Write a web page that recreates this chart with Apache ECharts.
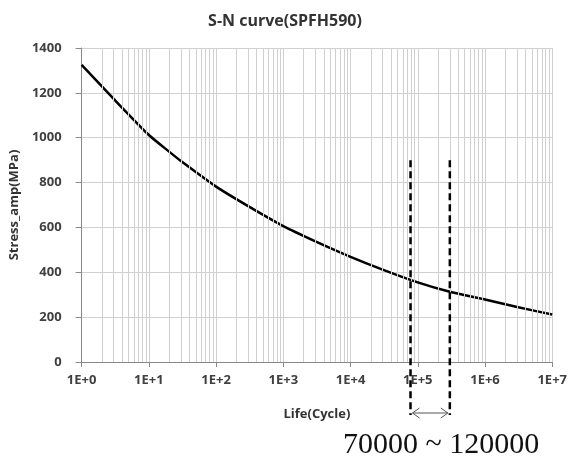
<!DOCTYPE html>
<html>
<head>
<meta charset="utf-8">
<script src="https://cdn.jsdelivr.net/npm/echarts@6/dist/echarts.min.js"></script>
<style>
  html, body { margin: 0; padding: 0; background: #fff; }
  #chart { width: 570px; height: 461px; }
</style>
</head>
<body>
<div id="chart"></div>
<script>
// S-N curve data (life in cycles, stress amplitude in MPa)
var life = [1, 3, 10, 20, 30, 100, 300, 1000, 3000, 1e4, 3e4, 1e5, 3e5, 1e6, 3e6, 1e7]
var stress = [1325, 1173, 1012, 938, 896, 782, 695, 606, 538, 469, 412, 355, 313, 279, 245, 212]
// range markers (dashed lines)
var rangeLife = [78000, 300000]
var rangeTop = 900
var rangeText = '70000 ~ 120000'

// minor vertical gridlines 2..9 of each decade
var minorGrid = []
for (var d = 0; d < 7; d++) {
  for (var m = 2; m <= 9; m++) minorGrid.push(m * Math.pow(10, d))
}

var myChart = echarts.init(document.getElementById('chart'))

var labelFont = { fontFamily: 'Open Sans', fontWeight: 'bold', fontSize: 13, color: '#404040' }
var nameFont = { fontFamily: 'Open Sans', fontWeight: 'bold', fontSize: 13, color: '#333' }

var option = {
  animation: false,
  title: {
    text: 'S-N curve(SPFH590)',
    left: 'center',
    top: 8,
    textStyle: { fontFamily: 'Open Sans', fontWeight: 'bold', fontSize: 16, color: '#333' }
  },
  grid: { left: 79, right: 16, top: 48, bottom: 99 },
  xAxis: {
    type: 'log',
    logBase: 10,
    min: 1,
    max: 1e7,
    name: 'Life(Cycle)',
    nameLocation: 'middle',
    nameGap: 46,
    nameTextStyle: nameFont,
    axisLine: { lineStyle: { color: '#888', width: 1 } },
    axisTick: { show: true, length: 5, lineStyle: { color: '#888' } },
    axisLabel: Object.assign({
      margin: 12,
      formatter: function (v) { return '1E+' + Math.round(Math.log10(v)) }
    }, labelFont),
    splitLine: { show: true, lineStyle: { color: '#d0d0d0', width: 1 } }
  },
  yAxis: {
    type: 'value',
    min: 0,
    max: 1400,
    interval: 200,
    name: 'Stress_amp(MPa)',
    nameLocation: 'middle',
    nameGap: 60,
    nameTextStyle: nameFont,
    axisLine: { show: true, lineStyle: { color: '#888', width: 1 } },
    axisTick: { show: true, length: 6, lineStyle: { color: '#888' } },
    axisLabel: Object.assign({
      margin: 20,
      formatter: function (v) { return String(v) }
    }, labelFont),
    splitLine: { show: true, lineStyle: { color: '#d0d0d0', width: 1 } }
  },
  series: [
    {
      // minor grid lines, drawn under the curve
      type: 'line',
      data: [],
      silent: true,
      z: 1,
      markLine: {
        silent: true,
        symbol: 'none',
        label: { show: false },
        lineStyle: { color: '#d0d0d0', width: 1, type: 'solid' },
        data: minorGrid.map(function (v) { return { xAxis: v } })
      }
    },
    {
      type: 'line',
      data: life.map(function (x, i) { return [x, stress[i]] }),
      showSymbol: false,
      smooth: 0.2,
      z: 3,
      lineStyle: { color: '#000', width: 2.5 }
    }
  ]
}

myChart.setOption(option)

// range markers drawn from axis coordinates
var pTop0 = myChart.convertToPixel({ xAxisIndex: 0, yAxisIndex: 0 }, [rangeLife[0], rangeTop])
var pTop1 = myChart.convertToPixel({ xAxisIndex: 0, yAxisIndex: 0 }, [rangeLife[1], rangeTop])
var pBase = myChart.convertToPixel({ xAxisIndex: 0, yAxisIndex: 0 }, [1, 0])
var yEnd = pBase[1] + 53
var yArrow = yEnd - 2
var x0 = pTop0[0], x1 = pTop1[0]
var dash = { stroke: '#000', lineWidth: 2.5, lineDash: [7, 4] }
var thin = { stroke: '#555', lineWidth: 1, fill: null }

myChart.setOption({
  graphic: [
    { type: 'line', z: 10, shape: { x1: x0, y1: pTop0[1], x2: x0, y2: yEnd }, style: dash },
    { type: 'line', z: 10, shape: { x1: x1, y1: pTop1[1], x2: x1, y2: yEnd }, style: dash },
    { type: 'line', z: 10, shape: { x1: x0 + 2, y1: yArrow, x2: x1 - 2, y2: yArrow }, style: thin },
    { type: 'polyline', z: 10, shape: { points: [[x0 + 9, yArrow - 5], [x0 + 2, yArrow], [x0 + 9, yArrow + 5]] }, style: thin },
    { type: 'polyline', z: 10, shape: { points: [[x1 - 9, yArrow - 5], [x1 - 2, yArrow], [x1 - 9, yArrow + 5]] }, style: thin },
    {
      type: 'text',
      z: 10,
      x: (x0 + x1) / 2 + 11,
      y: yEnd + 30,
      style: {
        text: rangeText,
        fontFamily: 'Liberation Serif',
        fontSize: 30,
        fill: '#111',
        align: 'center',
        verticalAlign: 'middle'
      }
    }
  ]
})
</script>
</body>
</html>
